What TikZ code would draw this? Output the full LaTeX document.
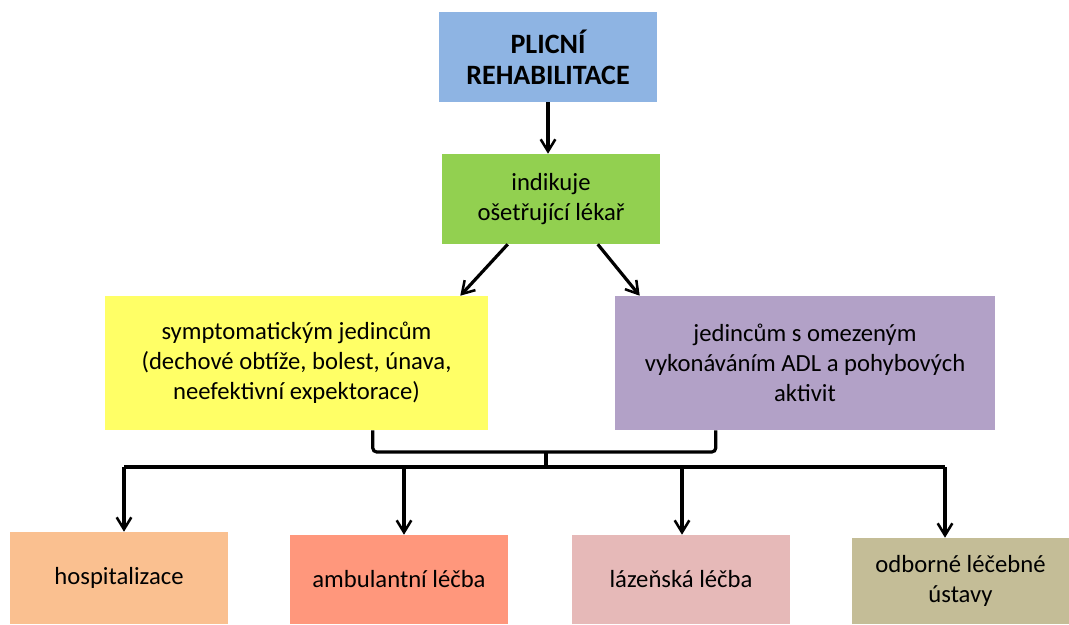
\documentclass[tikz,border=0pt]{standalone}
\usepackage{fontspec}
\setmainfont{Carlito}
\usetikzlibrary{arrows.meta,calc}
\definecolor{cblue}{HTML}{8EB4E3}
\definecolor{cgreen}{HTML}{92D050}
\definecolor{cyellow}{HTML}{FFFF66}
\definecolor{cpurple}{HTML}{B2A1C7}
\definecolor{corange}{HTML}{FAC090}
\definecolor{csalmon}{HTML}{FF977C}
\definecolor{cpink}{HTML}{E6B9B8}
\definecolor{colive}{HTML}{C4BD97}
\begin{document}
\begin{tikzpicture}[x=0.75pt,y=-0.75pt,
  box/.style={draw=none, inner sep=0pt, align=center,
    font=\fontsize{18.5}{22.5}\selectfont},
  flow/.style={line width=2.4pt, -{Straight Barb[length=9pt,width=11pt,line width=1.9pt]}},
  bar/.style={line width=2.4pt, rounded corners=3pt}]
\useasboundingbox (0,0) rectangle (1069,624);

% boxes
\node[box, fill=cblue, minimum width=163.5pt, minimum height=67.5pt,
  font=\fontsize{21}{23.25}\selectfont\bfseries] (top) at (548,57) {PLICNÍ\\REHABILITACE};
\node[box, fill=cgreen, minimum width=163.5pt, minimum height=67.5pt] (doc) at (551,199)
  {indikuje\\ošetřující lékař};
\node[box, fill=cyellow, minimum width=287.25pt, minimum height=100.5pt] (sym) at (296.5,363)
  {symptomatickým jedincům\\(dechové obtíže, bolest, únava,\\neefektivní expektorace)};
\node[box, fill=cpurple, minimum width=285pt, minimum height=100.5pt] (adl) at (805,363)
  {jedincům s omezeným\\vykonáváním ADL a pohybových\\aktivit};
\node[box, fill=corange, minimum width=163.5pt, minimum height=69pt] (hosp) at (119,578)
  {hospitalizace};
\node[box, fill=csalmon, minimum width=163.5pt, minimum height=66.75pt] (amb) at (399,579.5)
  {ambulantní léčba};
\node[box, fill=cpink, minimum width=163.5pt, minimum height=66.75pt] (laz) at (681,579.5)
  {lázeňská léčba};
\node[box, fill=colive, minimum width=162.75pt, minimum height=64.5pt] (odb) at (960.5,581)
  {odborné léčebné\\ústavy};

% top arrows
\draw[flow] (top.south) -- (top.south |- doc.north);
\draw[flow] ($(doc.south west)+(66,0)$) -- ($(sym.north east)+(-28,0)$);
\draw[flow] ($(doc.south west)+(156,0)$) -- ($(adl.north west)+(25,0)$);

% bracket joining both groups
\coordinate (mid) at (546,452);
\coordinate (hub) at (546,467);
\draw[bar] ($(sym.south west)+(268,0)$) |- (mid) -| ($(adl.south west)+(101,0)$);
\draw[line width=2.4pt] (mid) -- (hub);

% distribution bar
\coordinate (c1) at (124,467);
\coordinate (c2) at (404,467);
\coordinate (c3) at (682,467);
\coordinate (c4) at (945,467);
\draw[line width=2.4pt] (c1) -- (c4);
\draw[flow] (c1) -- (c1 |- hosp.north);
\draw[flow] (c2) -- (c2 |- amb.north);
\draw[flow] (c3) -- (c3 |- laz.north);
\draw[flow] (c4) -- (c4 |- odb.north);
\end{tikzpicture}
\end{document}
